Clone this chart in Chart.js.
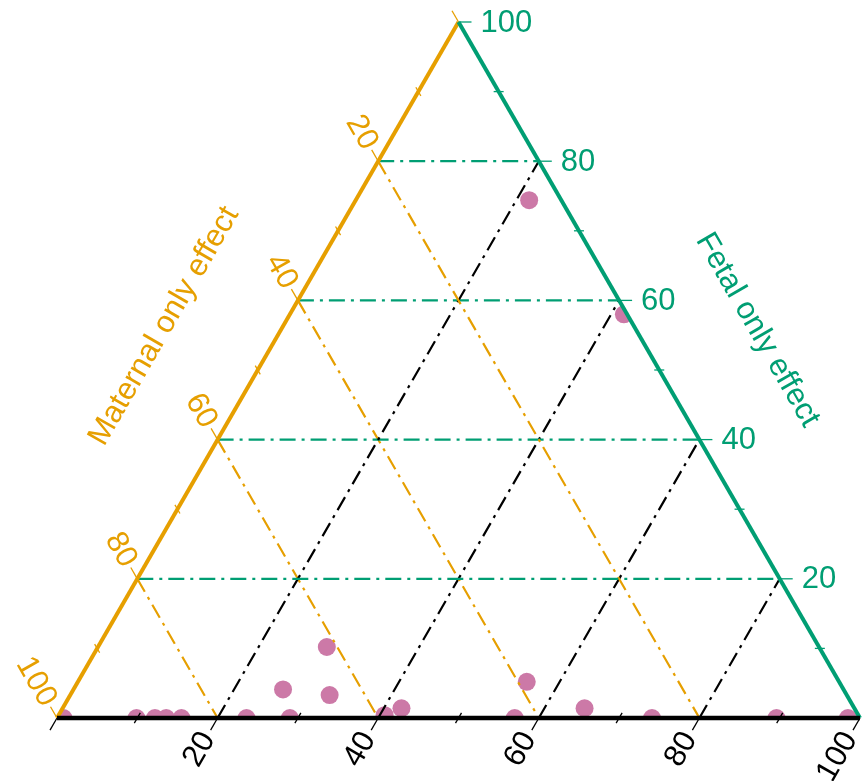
<!DOCTYPE html>
<html><head><meta charset="utf-8">
<script src="https://cdn.jsdelivr.net/npm/chart.js@4/dist/chart.umd.min.js"></script>
<style>html,body{margin:0;padding:0;background:#fff;}#wrap{width:865px;height:781px;position:relative;}</style>
</head><body><div id="wrap"><canvas id="c"></canvas></div>
<script>
// Ternary data (percent): each point = maternal only + fetal only + both (bottom axis) = 100
const fetalOnly  = [74.4, 58.0, 10.2, 4.1, 3.3, 5.2, 1.4, 1.4, 0.4, 0, 0, 0, 0, 0, 0, 0, 0, 0, 0, 0];
const bothEffect = [21.6, 41.6, 28.5, 26.1, 32.3, 55.9, 42.2, 65.0, 40.6, 0.8, 9.9, 12.2, 13.6, 15.5, 23.6, 29.0, 57.0, 74.1, 89.6, 98.5];
const maternalOnly = fetalOnly.map((f, i) => 100 - f - bothEffect[i]);

const gridValues  = [20, 40, 60, 80];
const majorTicks  = [0, 20, 40, 60, 80, 100];
const minorTicks  = [10, 30, 50, 70, 90];
const tickLabels  = ['20', '40', '60', '80', '100'];
const labelValues = [20, 40, 60, 80, 100];
const maternalTitle = 'Maternal only effect';
const fetalTitle = 'Fetal only effect';

const ORANGE = '#E69F00', GREEN = '#009E73', PINK = '#CC79A7', BLACK = '#000000';
const FONT = '31px "Liberation Sans", Arial, sans-serif';

// ternary (both, fetal) -> cartesian data coords
function tern(b, f) { return { x: b + f / 2, y: f }; }

function gridDataset(points, color, dash) {
  return { type: 'scatter', data: points, showLine: true, pointRadius: 0, borderColor: color,
           borderWidth: 2.2, borderDash: dash, fill: false, order: 1, clip: false };
}

const datasets = [];
gridValues.forEach(v => {
  datasets.push(gridDataset([tern(0, v), tern(100 - v, v)], GREEN, [16, 6, 3, 6]));      // fetal = v
  datasets.push(gridDataset([tern(0, 100 - v), tern(100 - v, 0)], ORANGE, [15, 6, 3, 6])); // maternal = v
  datasets.push(gridDataset([tern(v, 0), tern(v, 100 - v)], BLACK, [15, 6, 3, 6]));        // both = v
});
datasets.push({
  type: 'scatter', label: 'points', clipTriangle: true,
  data: fetalOnly.map((f, i) => tern(bothEffect[i], f)),
  pointRadius: 9, pointHoverRadius: 9, backgroundColor: PINK, borderWidth: 0, order: 2
});

function P(chart, b, f) {
  const t = tern(b, f);
  return [chart.scales.x.getPixelForValue(t.x), chart.scales.y.getPixelForValue(t.y)];
}
function line(ctx, a, b, color, w) {
  ctx.beginPath(); ctx.moveTo(a[0], a[1]); ctx.lineTo(b[0], b[1]);
  ctx.strokeStyle = color; ctx.lineWidth = w; ctx.stroke();
}
function tick(ctx, p, dir, len, color, centered) {
  const s = centered ? -len : 0;
  line(ctx, [p[0] + dir[0] * s, p[1] + dir[1] * s], [p[0] + dir[0] * len, p[1] + dir[1] * len], color, 1.3);
}
function text(ctx, str, x, y, rot, align, color) {
  ctx.save(); ctx.translate(x, y); ctx.rotate(rot);
  ctx.font = FONT; ctx.fillStyle = color; ctx.textAlign = align; ctx.textBaseline = 'middle';
  ctx.fillText(str, 0, 0); ctx.restore();
}

const S3 = Math.sqrt(3) / 2;
const ternaryPlugin = {
  id: 'ternary',
  beforeDatasetDraw(chart, args) {
    const ds = chart.data.datasets[args.index];
    if (!ds.clipTriangle) return;
    const ctx = chart.ctx;
    const a = P(chart, 0, 0), b = P(chart, 100, 0), c = P(chart, 0, 100);
    ctx.save(); ctx.beginPath(); ctx.moveTo(a[0], a[1]); ctx.lineTo(b[0], b[1]); ctx.lineTo(c[0], c[1]); ctx.closePath(); ctx.clip();
  },
  afterDatasetDraw(chart, args) {
    const ds = chart.data.datasets[args.index];
    if (ds.clipTriangle) chart.ctx.restore();
  },
  afterDatasetsDraw(chart) {
    const ctx = chart.ctx;
    ctx.save();
    ctx.lineCap = 'butt';
    const dirM = [-0.5, -S3], dirF = [1, 0], dirB = [-0.5, S3];
    // ticks
    majorTicks.forEach(v => {
      tick(ctx, P(chart, 0, 100 - v), dirM, 13, ORANGE);   // maternal = v
      if (v > 0) tick(ctx, P(chart, 100 - v, v), dirF, 13, GREEN); // fetal = v
      tick(ctx, P(chart, v, 0), dirB, 14, BLACK);           // both = v
    });
    minorTicks.forEach(v => {
      tick(ctx, P(chart, 0, 100 - v), dirM, 5, ORANGE, true);
      tick(ctx, P(chart, 100 - v, v), dirF, 5, GREEN, true);
      tick(ctx, P(chart, v, 0), dirB, 6, BLACK, true);
    });
    // edges
    line(ctx, P(chart, 0, 0), P(chart, 0, 100), ORANGE, 4);
    line(ctx, P(chart, 100, 0), P(chart, 0, 100), GREEN, 4);
    line(ctx, P(chart, 0, 0), P(chart, 100, 0), BLACK, 4.5);
    // tick labels
    labelValues.forEach((v, i) => {
      let p = P(chart, 0, 100 - v);
      text(ctx, tickLabels[i], p[0] + dirM[0] * 16, p[1] + dirM[1] * 16, Math.PI / 3, 'right', ORANGE);
      p = P(chart, 100 - v, v);
      text(ctx, tickLabels[i], p[0] + 22, p[1] + 1, 0, 'left', GREEN);
      p = P(chart, v, 0);
      text(ctx, tickLabels[i], p[0] + dirB[0] * 19, p[1] + dirB[1] * 19, -Math.PI / 3, 'right', BLACK);
    });
    // axis titles
    let p = P(chart, 0, 48.9);
    text(ctx, maternalTitle, p[0] - S3 * 103, p[1] - 0.5 * 103, -Math.PI / 3, 'center', ORANGE);
    p = P(chart, 51.8, 48.2);
    text(ctx, fetalTitle, p[0] + S3 * 105, p[1] - 0.5 * 105, Math.PI / 3, 'center', GREEN);
    ctx.restore();
  }
};

new Chart(document.getElementById('c'), {
  type: 'scatter',
  data: { datasets },
  options: {
    responsive: true, maintainAspectRatio: false, animation: false,
    layout: { autoPadding: false, padding: { left: 57, right: 5, top: 22, bottom: 63 } },
    scales: {
      x: { type: 'linear', min: 0, max: 100, display: false },
      y: { type: 'linear', min: 0, max: 100, display: false }
    },
    plugins: { legend: { display: false }, tooltip: { enabled: false } },
    events: []
  },
  plugins: [ternaryPlugin]
});
</script></body></html>
